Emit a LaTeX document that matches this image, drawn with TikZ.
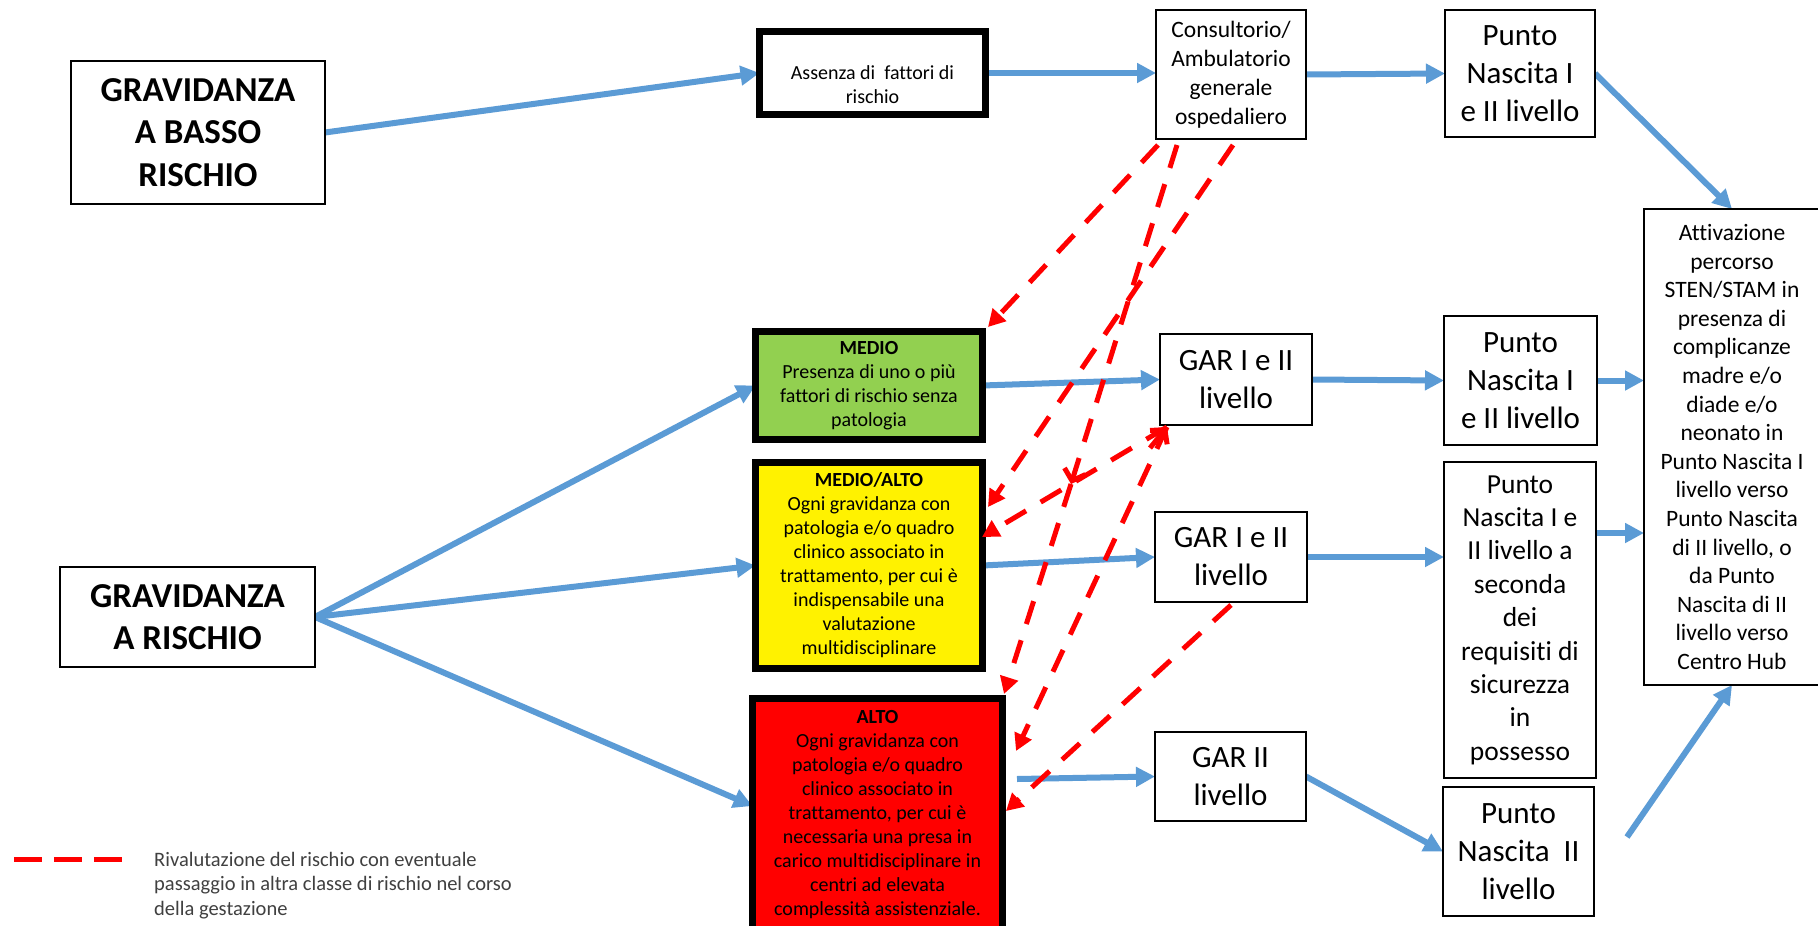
\documentclass[tikz,border=0pt]{standalone}
\usepackage{fontspec}
\setmainfont{Carlito}[Ligatures=NoCommon]
\usetikzlibrary{arrows.meta,calc}
\definecolor{myblue}{HTML}{5B9BD5}
\definecolor{mygreen}{HTML}{92D050}
\definecolor{legendgray}{HTML}{404040}
\newcommand\myBig{\fontsize{35}{42.5}\selectfont\bfseries}
\newcommand\myGar{\fontsize{31}{38}\selectfont}
\newcommand\mySec{\fontsize{27.5}{33.4}\selectfont}
\newcommand\myCons{\fontsize{23.5}{29}\selectfont}
\newcommand\myAtt{\fontsize{23.5}{28.6}\selectfont}
\newcommand\mySmall{\fontsize{20}{24}\selectfont}
\newcommand\myLeg{\fontsize{20.5}{24.5}\selectfont}
\pgfdeclarelayer{back}
\pgfdeclarelayer{bg}
\pgfsetlayers{back,bg,main}
\tikzset{
  box/.style={draw=black, line width=2pt, fill=white, inner sep=0pt, outer sep=0pt, align=center},
  thickbox/.style={box, line width=7pt},
  flow/.style={draw=myblue, line width=6pt, -{Triangle[length=19pt,width=19pt]}},
  redflow/.style={draw=red, line width=5pt, dash pattern=on 24pt off 17pt, -{Triangle[length=17pt,width=18pt]}},
  redbarb/.style={draw=red, line width=5pt, dash pattern=on 24pt off 17pt, -{Straight Barb[length=10pt,width=22pt]}},
  reddash/.style={draw=red, line width=5pt, dash pattern=on 28pt off 12pt},
}
\begin{document}
\begin{tikzpicture}[x=1pt,y=-1pt]
\useasboundingbox (0,0) rectangle (1818,926);
\clip (0,0) rectangle (1818,926);
\begin{pgfonlayer}{back}
\fill[white] (0,0) rectangle (1818,926);
\end{pgfonlayer}

% ---- boxes
\node[box, minimum width=254pt, minimum height=143pt, font=\myBig] (basso) at (198,132.5) {GRAVIDANZA\\A BASSO\\RISCHIO};
\node[box, minimum width=255pt, minimum height=100pt, font=\myBig] (rischio) at (187.5,617) {GRAVIDANZA\\A RISCHIO};
\node[thickbox, minimum width=226pt, minimum height=83pt] (assenza) at (872.5,73) {};
\node[font=\mySmall, align=center, inner sep=0pt] (assenzatxt) at (872.5,85) {Assenza di\ \ fattori di\\rischio};
\node[box, minimum width=150pt, minimum height=129pt, font=\myCons] (consult) at (1231,74.5) {Consultorio/\\Ambulatorio\\generale\\ospedaliero};
\node[box, minimum width=150pt, minimum height=127pt, font=\myGar] (punto1) at (1520,73.5) {Punto\\Nascita I\\e II livello};
\node[box, minimum width=176pt, minimum height=476pt, font=\myAtt] (attiv) at (1732,447) {Attivazione\\percorso\\STEN/STAM in\\presenza di\\complicanze\\madre e/o\\diade e/o\\neonato in\\Punto Nascita I\\livello verso\\Punto Nascita\\di II livello, o\\da Punto\\Nascita di II\\livello verso\\Centro Hub};
\node[thickbox, fill=mygreen, minimum width=227pt, minimum height=108pt, font=\mySmall] (medio) at (869,385.5) {\textbf{MEDIO}\\Presenza di uno o più\\fattori di rischio senza\\patologia};
\node[thickbox, fill=yellow, minimum width=227pt, minimum height=206pt, font=\mySmall] (medioalto) at (869,565.5) {\textbf{MEDIO/ALTO}\\Ogni gravidanza con\\patologia e/o quadro\\clinico associato in\\trattamento, per cui è\\indispensabile una\\valutazione\\multidisciplinare};
\node[thickbox, fill=red, minimum width=250pt, minimum height=258pt] (alto) at (877.5,827.5) {};
\node[font=\mySmall, align=center, anchor=north, inner sep=0pt] (altotxt) at (877.5,710) {\textbf{ALTO}\\Ogni gravidanza con\\patologia e/o quadro\\clinico associato in\\trattamento, per cui è\\necessaria una presa in\\carico multidisciplinare in\\centri ad elevata\\complessità assistenziale.};
\node[box, minimum width=152pt, minimum height=91pt, font=\myGar] (gar1) at (1236,379.5) {GAR I e II\\livello};
\node[box, minimum width=152pt, minimum height=90pt, font=\myGar] (gar2) at (1231,557) {GAR I e II\\livello};
\node[box, minimum width=151pt, minimum height=89pt, font=\myGar] (gar3) at (1230.5,776.5) {GAR II\\livello};
\node[box, minimum width=153pt, minimum height=129pt, font=\myGar] (punto2) at (1520.5,380.5) {Punto\\Nascita I\\e II livello};
\node[box, minimum width=152pt, minimum height=316pt, font=\mySec] (punto3) at (1520,620) {Punto\\Nascita I e\\II livello a\\seconda\\dei\\requisiti di\\sicurezza\\in\\possesso};
\node[box, minimum width=151pt, minimum height=129pt, font=\myGar] (punto4) at (1518.5,851.5) {Punto\\Nascita\ \ II\\livello};

% ---- blue connectors (behind boxes)
\coordinate (altoin) at (alto.west |- 0,806);
\coordinate (altoout) at (1017,779);
\coordinate (p3out) at (punto3.east |- 0,533);
\coordinate (hubfrom) at (1627,837);
\begin{pgfonlayer}{bg}
\draw[flow] (basso.east) -- (assenza.west);
\draw[flow] (assenza.east) -- (consult.west |- assenza.east);
\draw[flow] (consult.east) -- (punto1.west);
\draw[flow] (punto1.east) -- (attiv.north);
\draw[flow] (rischio.east) -- (medio.west);
\draw[flow] (rischio.east) -- (medioalto.west);
\draw[flow] (rischio.east) -- (altoin);
\draw[flow] (medio.east) -- (gar1.west);
\draw[flow] (medioalto.east) -- (gar2.west);
\draw[flow] (altoout) -- (gar3.west);
\draw[flow] (gar1.east) -- (punto2.west);
\draw[flow] (gar2.east) -- (punto3.west |- gar2.east);
\draw[flow] (gar3.east) -- (punto4.west);
\draw[flow] (punto2.east) -- (attiv.west |- punto2.east);
\draw[flow] (p3out) -- (attiv.west |- p3out);
\draw[flow] (hubfrom) -- (attiv.south);
\end{pgfonlayer}

% ---- red dashed connectors
\coordinate (cA) at (1158,145);
\coordinate (cB) at (1177,145);
\coordinate (cC) at (1233,145);
\coordinate (midB) at (1071,484);
\coordinate (g1c) at (1167,427);
\coordinate (g1v) at (1150,448);
\coordinate (g2c) at (1231,605);
\coordinate (mA) at (988,327);
\coordinate (aB) at (1004,694);
\coordinate (maC) at (988,507);
\coordinate (maD) at (982,537);
\coordinate (altoR1) at (1016,751);
\coordinate (altoR2) at (1006,811);
\draw[redflow] (cA) -- (mA);
\draw[redbarb] (cB) -- (midB);
\draw[redflow] (midB) -- (aB);
\draw[redflow] (cC) -- (maC);
\draw[redflow] (g1c) -- (maD);
\draw[redflow] (g1c) -- (altoR1);
\draw[redbarb] (g1v) -- (g1c);
\draw[redflow] (g2c) -- (altoR2);

% ---- legend
\coordinate (lg1) at (14,859);
\coordinate (lg2) at (122,859);
\draw[reddash] (lg1) -- (lg2);
\node[font=\myLeg, text=legendgray, align=left, anchor=north west, inner sep=0pt] (legend) at (154,852) {Rivalutazione del rischio con eventuale\\passaggio in altra classe di rischio nel corso\\della gestazione};
\end{tikzpicture}
\end{document}
